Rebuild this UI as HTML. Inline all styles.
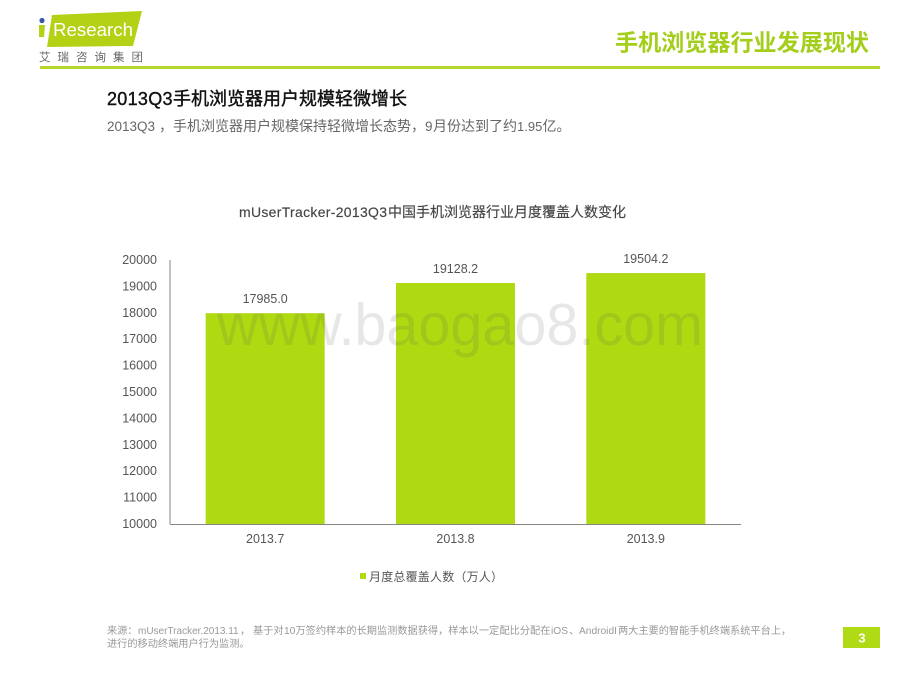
<!DOCTYPE html>
<html lang="zh">
<head>
<meta charset="utf-8">
<title>手机浏览器行业发展现状</title>
<style>
html,body{margin:0;padding:0;background:#fff;}
svg{display:block;}
text{font-family:"Liberation Sans","Noto Sans CJK SC",sans-serif;}
</style>
</head>
<body>
<svg id="slide" width="920" height="690" viewBox="0 0 920 690" xmlns="http://www.w3.org/2000/svg">
  <rect width="920" height="690" fill="#fff"/>
  <g>
    <polygon points="52,15 142,11 133,46 47,47" fill="#b5d116"/>
    <circle cx="42" cy="20.500" r="2.600" fill="#3b55a5"/>
    <polygon points="39,25 45,25 44,37 39,37" fill="#b5d116"/>
    <text x="53" y="36" font-size="18.500" fill="#fff" textLength="80" lengthAdjust="spacingAndGlyphs">Research</text>
    <text x="39" y="61" font-size="11.500" fill="#666" textLength="104">艾瑞咨询集团</text>
  </g>
  <rect x="40" y="66" width="840" height="3" fill="#b5d62c"/>
  <text x="615" y="50.500" font-size="23" font-weight="700" fill="#a4ce1c" textLength="254" lengthAdjust="spacingAndGlyphs">手机浏览器行业发展现状</text>

  <text y="105" font-size="18" fill="#111" stroke="#111" stroke-width="0.400"><tspan x="107" letter-spacing="0.300">2013Q3</tspan><tspan x="173">手机浏览器用户规模轻微增长</tspan></text>
  <text y="131" font-size="14" fill="#666"><tspan x="107" font-size="13.500">2013Q3</tspan><tspan x="159">，手机浏览器用户规模保持轻微增长态势，</tspan><tspan x="425" font-size="13.500">9</tspan><tspan x="433">月份达到了约</tspan><tspan x="517" font-size="13">1.95</tspan><tspan x="542.500">亿。</tspan></text>

  <text y="217" font-size="14" fill="#444" stroke="#444" stroke-width="0.150"><tspan x="239" letter-spacing="0.300">mUserTracker-2013Q3</tspan><tspan x="388">中国手机浏览器行业月度覆盖人数变化</tspan></text>

  <g id="chart"></g>

  <text x="217" y="345" font-size="59" fill="#555" fill-opacity="0.14" textLength="486" lengthAdjust="spacingAndGlyphs">www.baogao8.com</text>

  <g>
    <rect x="360" y="573" width="6" height="6" fill="#afda12"/>
    <text x="369" y="581" font-size="12" fill="#555" textLength="134">月度总覆盖人数（万人）</text>
  </g>

  <text y="634" font-size="10.200" fill="#999"><tspan x="107">来源：</tspan><tspan x="138" font-size="10">mUserTracker.2013.11</tspan><tspan x="240">，</tspan><tspan x="253">基于对</tspan><tspan x="284">10</tspan><tspan x="295.500">万签约样本的长期监测数据获得，样本以一定</tspan><tspan x="499.500">配比分配在</tspan><tspan x="551">iOS</tspan><tspan x="569">、</tspan><tspan x="579">AndroidI</tspan><tspan x="618">两大主要的智能手机终端系统平台上，</tspan></text>
  <text x="107" y="647" font-size="10.200" fill="#999">进行的移动终端用户行为监测。</text>

  <rect x="843" y="627" width="37" height="21" fill="#b0d916"/>
  <text x="862" y="642.500" font-size="13" font-weight="700" fill="#fff" text-anchor="middle">3</text>
</svg>
<script>
var categories = ['2013.7', '2013.8', '2013.9'];
var seriesValues = [17985.0, 19128.2, 19504.2];
var yTickLabels = [10000, 11000, 12000, 13000, 14000, 15000, 16000, 17000, 18000, 19000, 20000];

var NS = 'http://www.w3.org/2000/svg';
var chart = document.getElementById('chart');
var plotLeft = 170, plotRight = 741, plotTop = 260, plotBottom = 524;
var yMin = 10000, yMax = 20000;

function yScale(v) {
  return plotBottom - (v - yMin) / (yMax - yMin) * (plotBottom - plotTop);
}
function xCenter(i) {
  return plotLeft + (i + 0.5) * (plotRight - plotLeft) / categories.length;
}
function make(tag, attrs, text) {
  var el = document.createElementNS(NS, tag);
  for (var k in attrs) el.setAttribute(k, attrs[k]);
  if (text !== undefined) el.textContent = text;
  chart.appendChild(el);
  return el;
}

var barWidth = 119;
seriesValues.forEach(function (v, i) {
  var top = yScale(v);
  var bar = make('rect', {x: xCenter(i) - barWidth / 2, y: top, width: barWidth, height: plotBottom - top, fill: '#afda12'});
  
  
  var label = make('text', {x: xCenter(i), y: top - 10, 'font-size': 12.5, fill: '#555', 'text-anchor': 'middle'}, v.toFixed(1));
  
  
  var cat = make('text', {x: xCenter(i), y: 543, 'font-size': 12.5, fill: '#555', 'text-anchor': 'middle'}, categories[i]);
  
  
});

yTickLabels.forEach(function (t) {
  var tick = make('text', {x: 157, y: yScale(t) + 4, 'font-size': 12.5, fill: '#555', 'text-anchor': 'end'}, String(t));
  
  
});

var yAxis = make('line', {x1: plotLeft, x2: plotLeft, y1: plotTop, y2: plotBottom, stroke: '#868686', 'stroke-width': 1});


var xAxis = make('line', {x1: plotLeft, x2: plotRight, y1: plotBottom + 0.5, y2: plotBottom + 0.5, stroke: '#868686', 'stroke-width': 1});


</script>
</body>
</html>
